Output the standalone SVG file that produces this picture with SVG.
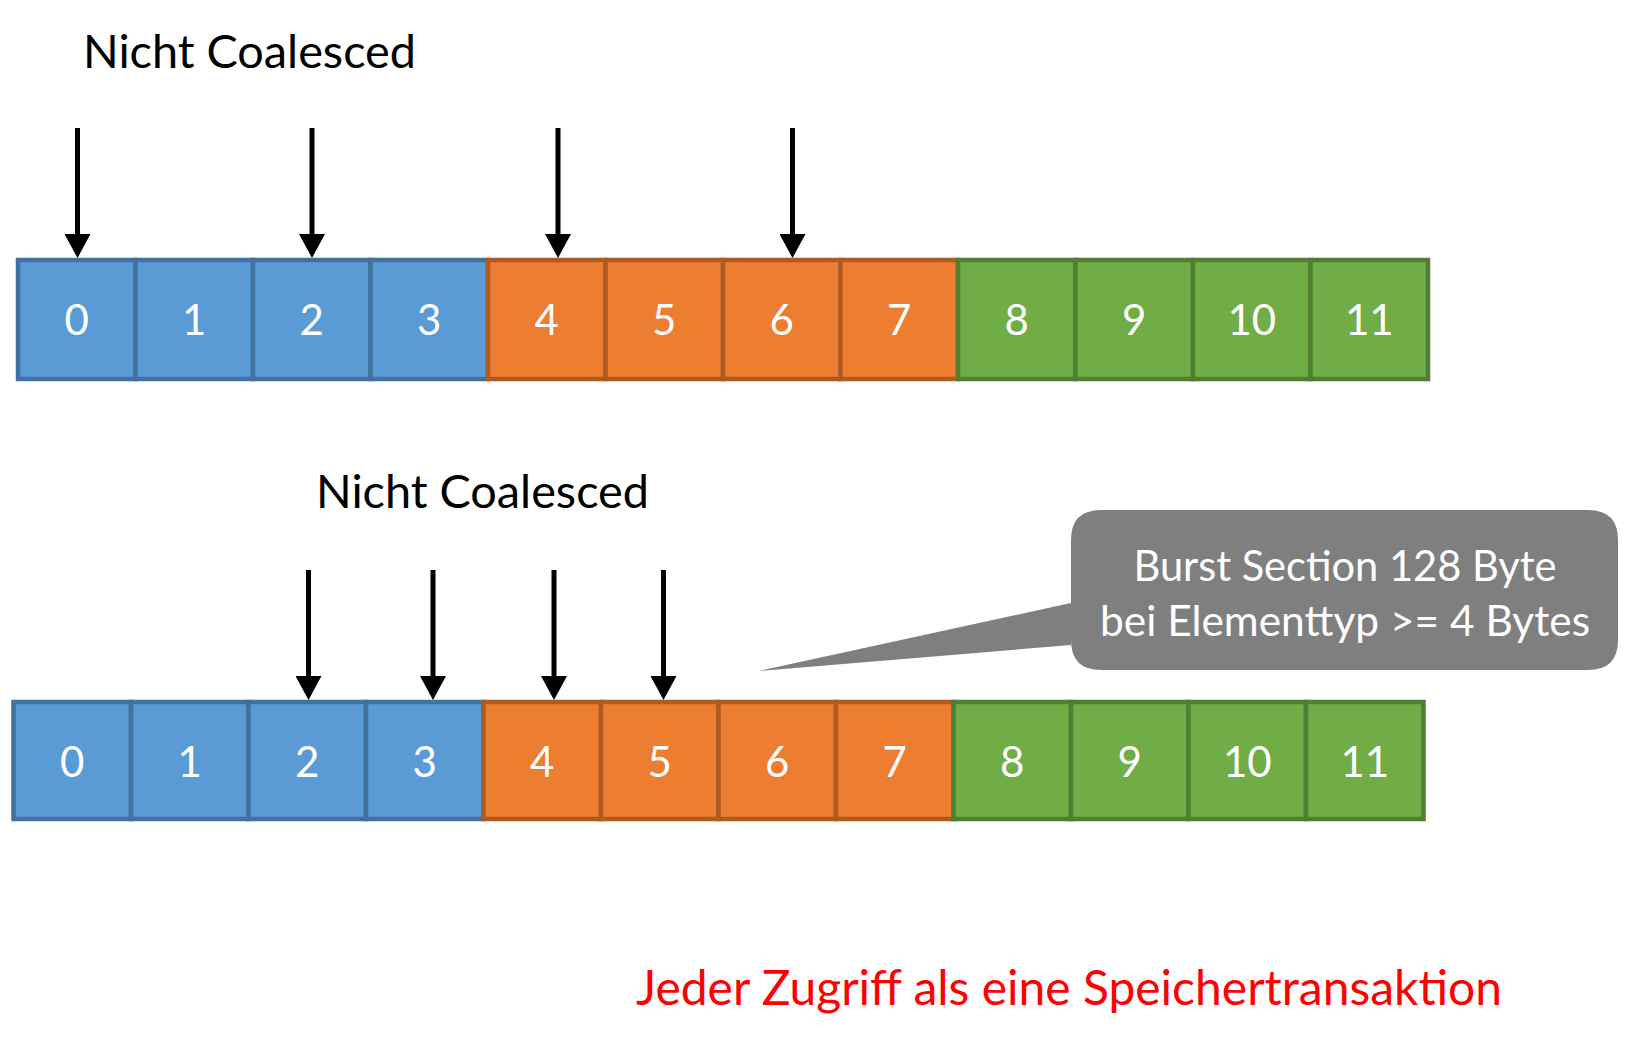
<svg xmlns="http://www.w3.org/2000/svg" width="1642" height="1042" viewBox="0 0 1642 1042">
  <style>
    .title { font-family: Lato, "Open Sans", "Liberation Sans", sans-serif; font-size: 46px; fill: #000; }
    .num { font-family: Lato, "Open Sans", "Liberation Sans", sans-serif; font-size: 42px; fill: #fff; text-anchor: middle; }
    .blue { fill: #5B9BD5; stroke: #41719C; stroke-width: 4.5; }
    .orange { fill: #ED7D31; stroke: #AE5A21; stroke-width: 4.5; }
    .green { fill: #70AD47; stroke: #507E32; stroke-width: 4.5; }
    .arrow { stroke: #000; stroke-width: 5; fill: none; marker-end: url(#head); }
    .callout { fill: #7F7F7F; }
    .ctext { font-family: Lato, "Open Sans", "Liberation Sans", sans-serif; font-size: 42px; fill: #fff; text-anchor: middle; }
    .note { font-family: Lato, "Open Sans", "Liberation Sans", sans-serif; font-size: 48px; fill: #FF0000; }
  </style>
  <defs>
    <marker id="head" viewBox="0 0 24 26" refX="4" refY="13" markerWidth="24" markerHeight="26" markerUnits="userSpaceOnUse" orient="auto">
      <path d="M0,0 L24,13 L0,26 Z" fill="#000"/>
    </marker>
  </defs>

  <rect width="1642" height="1042" fill="#fff"/>

  <!-- upper memory row -->
  <text class="title" x="83" y="68" textLength="333" lengthAdjust="spacingAndGlyphs">Nicht Coalesced</text>
  <g id="row1">
    <g id="r1c0"><rect class="blue" x="18" y="260" width="117.5" height="119"/><text class="num" x="76.75" y="335">0</text></g>
    <g id="r1c1"><rect class="blue" x="135.5" y="260" width="117.5" height="119"/><text class="num" x="194.25" y="335">1</text></g>
    <g id="r1c2"><rect class="blue" x="253" y="260" width="117.5" height="119"/><text class="num" x="311.75" y="335">2</text></g>
    <g id="r1c3"><rect class="blue" x="370.5" y="260" width="117.5" height="119"/><text class="num" x="429.25" y="335">3</text></g>
    <g id="r1c4"><rect class="orange" x="488" y="260" width="117.5" height="119"/><text class="num" x="546.75" y="335">4</text></g>
    <g id="r1c5"><rect class="orange" x="605.5" y="260" width="117.5" height="119"/><text class="num" x="664.25" y="335">5</text></g>
    <g id="r1c6"><rect class="orange" x="723" y="260" width="117.5" height="119"/><text class="num" x="781.75" y="335">6</text></g>
    <g id="r1c7"><rect class="orange" x="840.5" y="260" width="117.5" height="119"/><text class="num" x="899.25" y="335">7</text></g>
    <g id="r1c8"><rect class="green" x="958" y="260" width="117.5" height="119"/><text class="num" x="1016.75" y="335">8</text></g>
    <g id="r1c9"><rect class="green" x="1075.5" y="260" width="117.5" height="119"/><text class="num" x="1134.25" y="335">9</text></g>
    <g id="r1c10"><rect class="green" x="1193" y="260" width="117.5" height="119"/><text class="num" x="1251.75" y="335">10</text></g>
    <g id="r1c11"><rect class="green" x="1310.5" y="260" width="117.5" height="119"/><text class="num" x="1369.25" y="335">11</text></g>
  </g>

  <!-- lower memory row -->
  <text class="title" x="316" y="508" textLength="333" lengthAdjust="spacingAndGlyphs">Nicht Coalesced</text>
  <g id="row2">
    <g id="r2c0"><rect class="blue" x="13.5" y="702" width="117.5" height="117"/><text class="num" x="72.25" y="777">0</text></g>
    <g id="r2c1"><rect class="blue" x="131" y="702" width="117.5" height="117"/><text class="num" x="189.75" y="777">1</text></g>
    <g id="r2c2"><rect class="blue" x="248.5" y="702" width="117.5" height="117"/><text class="num" x="307.25" y="777">2</text></g>
    <g id="r2c3"><rect class="blue" x="366" y="702" width="117.5" height="117"/><text class="num" x="424.75" y="777">3</text></g>
    <g id="r2c4"><rect class="orange" x="483.5" y="702" width="117.5" height="117"/><text class="num" x="542.25" y="777">4</text></g>
    <g id="r2c5"><rect class="orange" x="601" y="702" width="117.5" height="117"/><text class="num" x="659.75" y="777">5</text></g>
    <g id="r2c6"><rect class="orange" x="718.5" y="702" width="117.5" height="117"/><text class="num" x="777.25" y="777">6</text></g>
    <g id="r2c7"><rect class="orange" x="836" y="702" width="117.5" height="117"/><text class="num" x="894.75" y="777">7</text></g>
    <g id="r2c8"><rect class="green" x="953.5" y="702" width="117.5" height="117"/><text class="num" x="1012.25" y="777">8</text></g>
    <g id="r2c9"><rect class="green" x="1071" y="702" width="117.5" height="117"/><text class="num" x="1129.75" y="777">9</text></g>
    <g id="r2c10"><rect class="green" x="1188.5" y="702" width="117.5" height="117"/><text class="num" x="1247.25" y="777">10</text></g>
    <g id="r2c11"><rect class="green" x="1306" y="702" width="117.5" height="117"/><text class="num" x="1364.75" y="777">11</text></g>
  </g>

  <!-- access arrows -->
  <g id="connectors">
    <line class="arrow" x1="77.5" y1="128" x2="77.5" y2="238"/>
    <line class="arrow" x1="312" y1="128" x2="312" y2="238"/>
    <line class="arrow" x1="558" y1="128" x2="558" y2="238"/>
    <line class="arrow" x1="792.5" y1="128" x2="792.5" y2="238"/>
    <line class="arrow" x1="308.5" y1="570" x2="308.5" y2="680"/>
    <line class="arrow" x1="433" y1="570" x2="433" y2="680"/>
    <line class="arrow" x1="554" y1="570" x2="554" y2="680"/>
    <line class="arrow" x1="663.5" y1="570" x2="663.5" y2="680"/>
  </g>

  <!-- speech bubble -->
  <g id="callout">
    <path class="callout" d="M1101,510 H1588 Q1618,510 1618,540 V640 Q1618,670 1588,670 H1101 Q1071,670 1071,640 V645 L758,671 L1071,603 V540 Q1071,510 1101,510 Z"/>
    <text class="ctext" x="1345" y="581" textLength="423" lengthAdjust="spacingAndGlyphs">Burst Section 128 Byte</text>
    <text class="ctext" x="1345" y="636" textLength="490" lengthAdjust="spacingAndGlyphs">bei Elementtyp &gt;= 4 Bytes</text>
  </g>

  <text class="note" x="636" y="1005" textLength="866" lengthAdjust="spacingAndGlyphs">Jeder Zugriff als eine Speichertransaktion</text>
</svg>
